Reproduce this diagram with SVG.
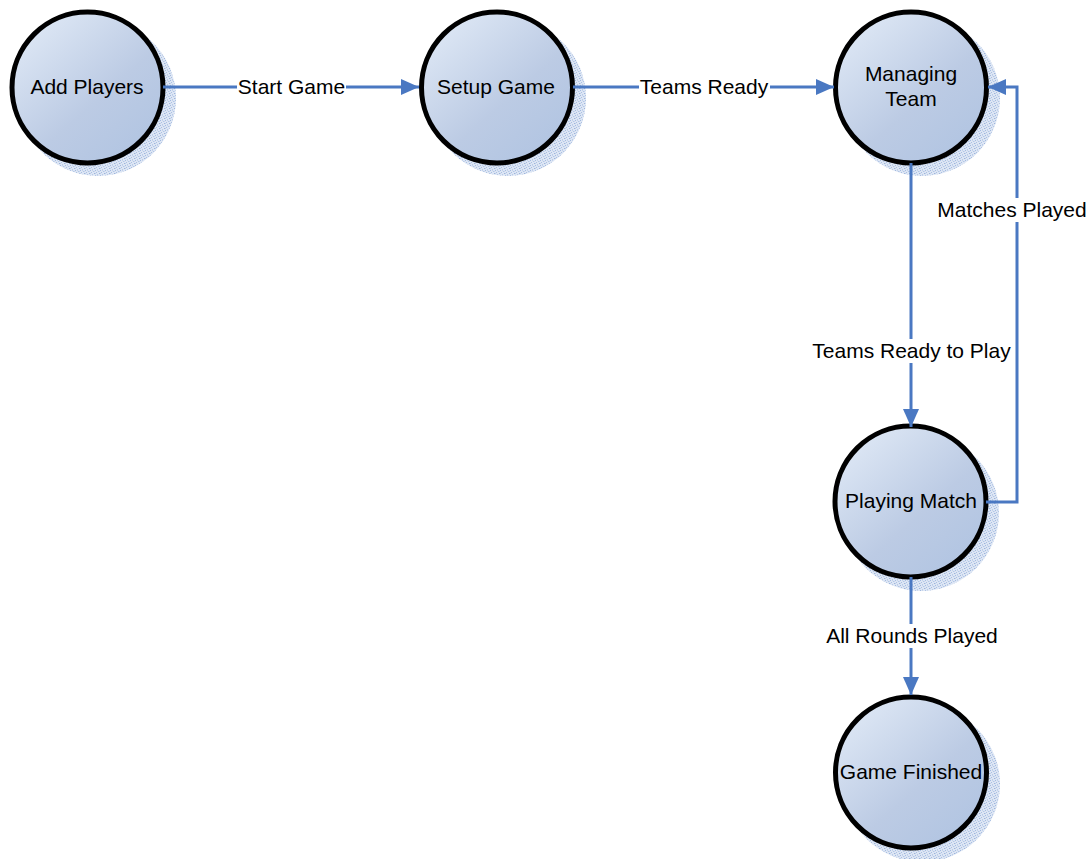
<svg xmlns="http://www.w3.org/2000/svg" width="1090" height="859" viewBox="0 0 1090 859">
  <style>
    .state { fill: url(#stateFill); stroke: #000; stroke-width: 5; }
    .shadow { fill: url(#stipple); }
    .name { font-family: "Liberation Sans", Arial, sans-serif; font-size: 21px; fill: #000; text-anchor: middle; }
    .edge { fill: none; stroke: #4a78c2; stroke-width: 3; marker-end: url(#arrow); }
    .lblbg { fill: #fff; }
  </style>
  <defs>
    <linearGradient id="stateFill" x1="0.15" y1="0.1" x2="0.85" y2="0.9">
      <stop offset="0" stop-color="#dce6f4"/>
      <stop offset="0.6" stop-color="#bccbe4"/>
      <stop offset="1" stop-color="#b2c5e2"/>
    </linearGradient>
    <!-- speckled fill for the drop shadows -->
    <pattern id="stipple" width="5" height="5" patternUnits="userSpaceOnUse">
      <rect width="5" height="5" fill="#dde6f4"/>
      <rect x="0" y="0" width="1" height="1" fill="#a3badf"/>
      <rect x="3" y="1" width="1" height="1" fill="#b3c6e6"/>
      <rect x="1" y="2" width="1" height="1" fill="#aabfe2"/>
      <rect x="4" y="3" width="1" height="1" fill="#9db4dc"/>
      <rect x="2" y="4" width="1" height="1" fill="#b8cae8"/>
      <rect x="2" y="0" width="1" height="1" fill="#c4d3ec"/>
      <rect x="4" y="1" width="1" height="1" fill="#c7d5ec"/>
      <rect x="0" y="3" width="1" height="1" fill="#bfd0ea"/>
    </pattern>
    <marker id="arrow" markerWidth="18" markerHeight="16" refX="18" refY="8" orient="auto" markerUnits="userSpaceOnUse">
      <path d="M0,0 L18,8 L0,16 Z" fill="#4a78c2"/>
    </marker>
  </defs>

  <g id="add-players">
    <circle class="shadow" cx="98" cy="98" r="78"/>
    <circle class="state" cx="87.5" cy="87.5" r="75.5"/>
    <text class="name" x="87" y="94">Add Players</text>
  </g>

  <g id="setup-game">
    <circle class="shadow" cx="508" cy="98" r="78"/>
    <circle class="state" cx="497" cy="87.5" r="75.5"/>
    <text class="name" x="496" y="94">Setup Game</text>
  </g>

  <g id="managing-team">
    <circle class="shadow" cx="922" cy="98" r="78"/>
    <circle class="state" cx="911" cy="87.5" r="75.5"/>
    <text class="name" x="911" y="81">Managing</text>
    <text class="name" x="911" y="106">Team</text>
  </g>

  <g id="playing-match">
    <circle class="shadow" cx="921" cy="513" r="78"/>
    <circle class="state" cx="910.5" cy="501.5" r="75.5"/>
    <text class="name" x="911" y="508">Playing Match</text>
  </g>

  <g id="game-finished">
    <circle class="shadow" cx="922" cy="784" r="78"/>
    <circle class="state" cx="911" cy="772.5" r="75.5"/>
    <text class="name" x="911" y="779">Game Finished</text>
  </g>

  <!-- transitions, drawn over the node shadows -->
  <g id="connectors">
    <path class="edge" d="M163,87 H419"/>
    <path class="edge" d="M573,87 H834"/>
    <path class="edge" d="M911,163 V427"/>
    <path class="edge" d="M986,502 H1017 V87 H988"/>
    <path class="edge" d="M911,577 V695"/>

    <rect class="lblbg" x="237" y="75" width="109" height="24"/>
    <text class="name" x="291.5" y="94">Start Game</text>
    <rect class="lblbg" x="639" y="75" width="131" height="24"/>
    <text class="name" x="704" y="94">Teams Ready</text>
    <rect class="lblbg" x="809" y="339" width="205" height="24"/>
    <text class="name" x="911.5" y="358">Teams Ready to Play</text>
    <rect class="lblbg" x="937" y="198" width="151" height="24"/>
    <text class="name" x="1012" y="217">Matches Played</text>
    <rect class="lblbg" x="825" y="624" width="174" height="24"/>
    <text class="name" x="912" y="643">All Rounds Played</text>
  </g>
</svg>
